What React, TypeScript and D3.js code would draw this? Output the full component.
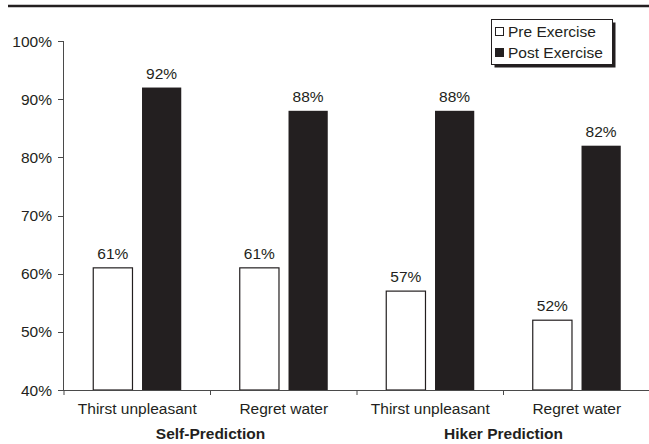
import * as React from 'react';
import * as d3 from 'd3';

const groups = ['Self-Prediction', 'Hiker Prediction'];
const categories = ['Thirst unpleasant', 'Regret water', 'Thirst unpleasant', 'Regret water'];
const preExercise = [61, 61, 57, 52];
const postExercise = [92, 88, 88, 82];
const seriesNames = ['Pre Exercise', 'Post Exercise'];
const yTicks = [40, 50, 60, 70, 80, 90, 100];

const W = 649, H = 444;
const FONT = '"Liberation Sans", Arial, sans-serif';
const TXT = '#231f20';
const AX = '#4a4a4a';

const App: React.FC = () => {
    const x0 = d3.scaleBand<number>()
        .domain(d3.range(categories.length))
        .range([64, 650]);
    const bw = x0.bandwidth();
    const x1 = d3.scaleBand<string>()
        .domain(seriesNames)
        .range([28.75, bw - 28.75])
        .paddingInner(0.175);
    const y = d3.scaleLinear().domain([40, 100]).range([390, 41]);

    const series = [preExercise, postExercise];

    return (
        <svg width={W} height={H} style={{ position: 'absolute', left: 0, top: 0, display: 'block' }}
            fontFamily={FONT}>
            <rect width={W} height={H} fill="#fff" />
            {/* top rule */}
            <line x1={8} x2={649} y1={6} y2={6} stroke="#231f20" strokeWidth={2.5} />

            {/* y axis */}
            <line x1={63.5} x2={63.5} y1={y(100)} y2={y(40)} stroke={AX} />
            {yTicks.map(t => (
                <g key={t}>
                    <line x1={58} x2={63.5} y1={Math.round(y(t)) + 0.5} y2={Math.round(y(t)) + 0.5} stroke={AX} />
                    <text x={52} y={y(t)} dy="0.36em" textAnchor="end" fontSize={15.5} fill={TXT}>{t}%</text>
                </g>
            ))}

            {/* bars */}
            {series.map((vals, si) => vals.map((v, ci) => {
                const bx = x0(ci)! + x1(seriesNames[si])!;
                const top = y(v);
                return (
                    <g key={`${si}-${ci}`}>
                        <rect x={bx + 0.5} y={top} width={x1.bandwidth() - 1} height={y(40) - top}
                            fill={si === 0 ? '#fff' : '#231f20'}
                            stroke="#231f20" strokeWidth={si === 0 ? 1.2 : 0} />
                        <text x={bx + x1.bandwidth() / 2} y={top - 9} textAnchor="middle"
                            fontSize={15.5} fill={TXT}>{v}%</text>
                    </g>
                );
            }))}

            {/* x axis */}
            <line x1={62} x2={650} y1={390.5} y2={390.5} stroke={AX} />
            {d3.range(categories.length + 1).map(i => {
                const xx = i < categories.length ? x0(i)! : 650;
                return <line key={i} x1={xx} x2={xx} y1={390.5} y2={395} stroke={AX} />;
            })}
            {categories.map((c, i) => (
                <text key={i} x={x0(i)! + bw / 2} y={414} textAnchor="middle" fontSize={15.5} fill={TXT}>{c}</text>
            ))}
            {groups.map((g, gi) => (
                <text key={g} x={x0(gi * 2 + 1)!} y={439} textAnchor="middle" fontSize={15.5}
                    fontWeight="bold" fill={TXT}>{g}</text>
            ))}

            {/* legend */}
            <g>
                <rect x={494.5} y={22.5} width={121} height={45} fill="#231f20" />
                <rect x={491.5} y={19.5} width={121} height={45} fill="#fff" stroke="#231f20" strokeWidth={1} />
                {seriesNames.map((s, i) => (
                    <g key={s} transform={`translate(0,${i * 21})`}>
                        <rect x={495.5} y={27.5} width={8} height={8}
                            fill={i === 0 ? '#fff' : '#231f20'} stroke="#231f20" strokeWidth={1} />
                        <text x={508} y={37} fontSize={15.5} fill={TXT}>{s}</text>
                    </g>
                ))}
            </g>
        </svg>
    );
};

export default App;
